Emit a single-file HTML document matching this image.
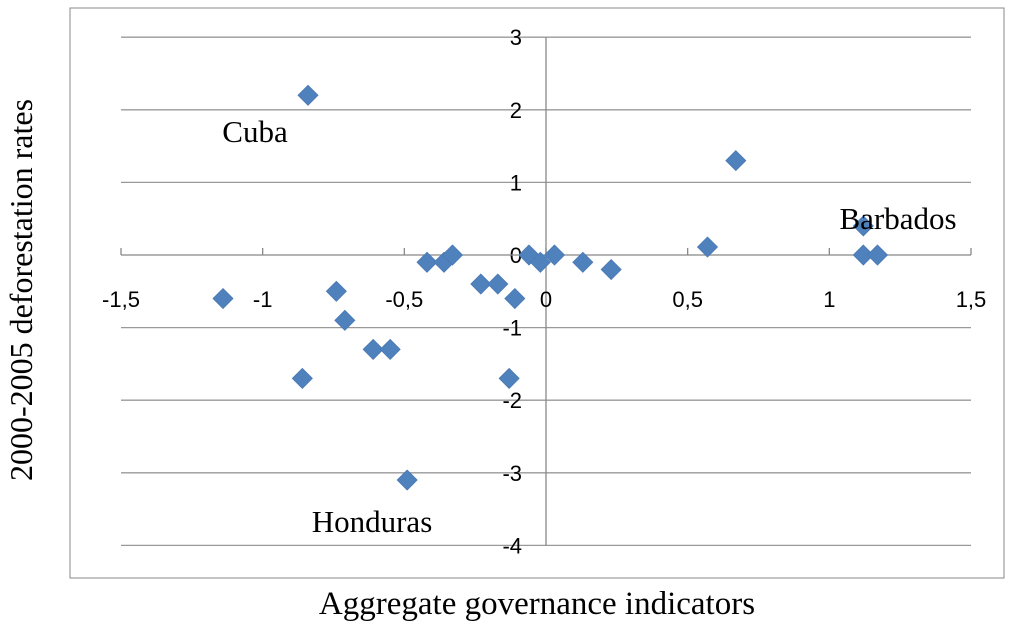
<!DOCTYPE html>
<html><head><meta charset="utf-8"><style>
html,body{margin:0;padding:0;background:#fff;}
svg text{fill:#000;}
.serif{font-family:"Liberation Serif",serif;}
.sans{font-family:"Liberation Sans",sans-serif;}
</style></head><body>
<svg id="chart" width="1024" height="629" xmlns="http://www.w3.org/2000/svg">
<rect x="70" y="8" width="934" height="570" fill="#fff" stroke="#888" stroke-width="1"/>
<g id="grid"></g><g id="axes"></g><g id="pts"></g>
<text class="serif" x="255" y="142" font-size="31" text-anchor="middle">Cuba</text>
<text class="serif" x="898" y="229" font-size="31" text-anchor="middle">Barbados</text>
<text class="serif" x="372" y="532" font-size="31" text-anchor="middle">Honduras</text>
<text class="serif" x="537" y="614" font-size="33" text-anchor="middle">Aggregate governance indicators</text>
<text class="serif" transform="translate(32,290) rotate(-90)" font-size="32" text-anchor="middle">2000-2005 deforestation rates</text>
</svg>
<script>
const xVals=[-0.84,0.67,0.57,1.12,1.12,1.17,-1.14,-0.74,-0.71,-0.61,-0.55,-0.86,-0.49,-0.42,-0.36,-0.33,-0.23,-0.17,-0.11,-0.13,-0.06,-0.02,0.03,0.13,0.23];
const yVals=[2.2,1.3,0.11,0.4,0,0,-0.6,-0.5,-0.9,-1.3,-1.3,-1.7,-3.1,-0.1,-0.1,0,-0.4,-0.4,-0.6,-1.7,0,-0.1,0,-0.1,-0.2];
const xTicks=[-1.5,-1,-0.5,0,0.5,1,1.5];
const yTicks=[3,2,1,0,-1,-2,-3,-4];
const NS="http://www.w3.org/2000/svg";
const sx=v=>546+v*283.33, sy=v=>255-v*72.6;
function mk(t,a,p){const e=document.createElementNS(NS,t);for(const k in a)e.setAttribute(k,a[k]);document.getElementById(p).appendChild(e);return e;}
yTicks.forEach(t=>{
 if(t!==0){const l=mk('line',{x1:121,x2:971,y1:sy(t),y2:sy(t),stroke:'#999','stroke-width':1.3},'grid');
 
 }
 const tx=mk('text',{class:'sans',x:522,y:sy(t)+8,'font-size':22,'text-anchor':'end'},'axes');tx.textContent=String(t);
 
 
});
const ya=mk('line',{x1:546,x2:546,y1:sy(3),y2:sy(-4),stroke:'#888','stroke-width':1.3},'axes');


const xa=mk('line',{x1:121,x2:971,y1:255,y2:255,stroke:'#888','stroke-width':1.3},'axes');


xTicks.forEach(t=>{
 const tk=mk('line',{x1:sx(t),x2:sx(t),y1:255,y2:248,stroke:'#888','stroke-width':1.3},'axes');
 
 
 const tx=mk('text',{class:'sans',x:sx(t),y:307,'font-size':22,'text-anchor':'middle'},'axes');tx.textContent=String(t).replace('.',',');
 
 
});
xVals.forEach((v,i)=>{
 const x=sx(v),y=sy(yVals[i]),r=10;
 const p=mk('polygon',{points:`${x},${y-r} ${x+r},${y} ${x},${y+r} ${x-r},${y}`,fill:'#4f81bd',stroke:'#4a7ab5','stroke-width':0.8},'pts');
 
 
});
</script>
</body></html>
